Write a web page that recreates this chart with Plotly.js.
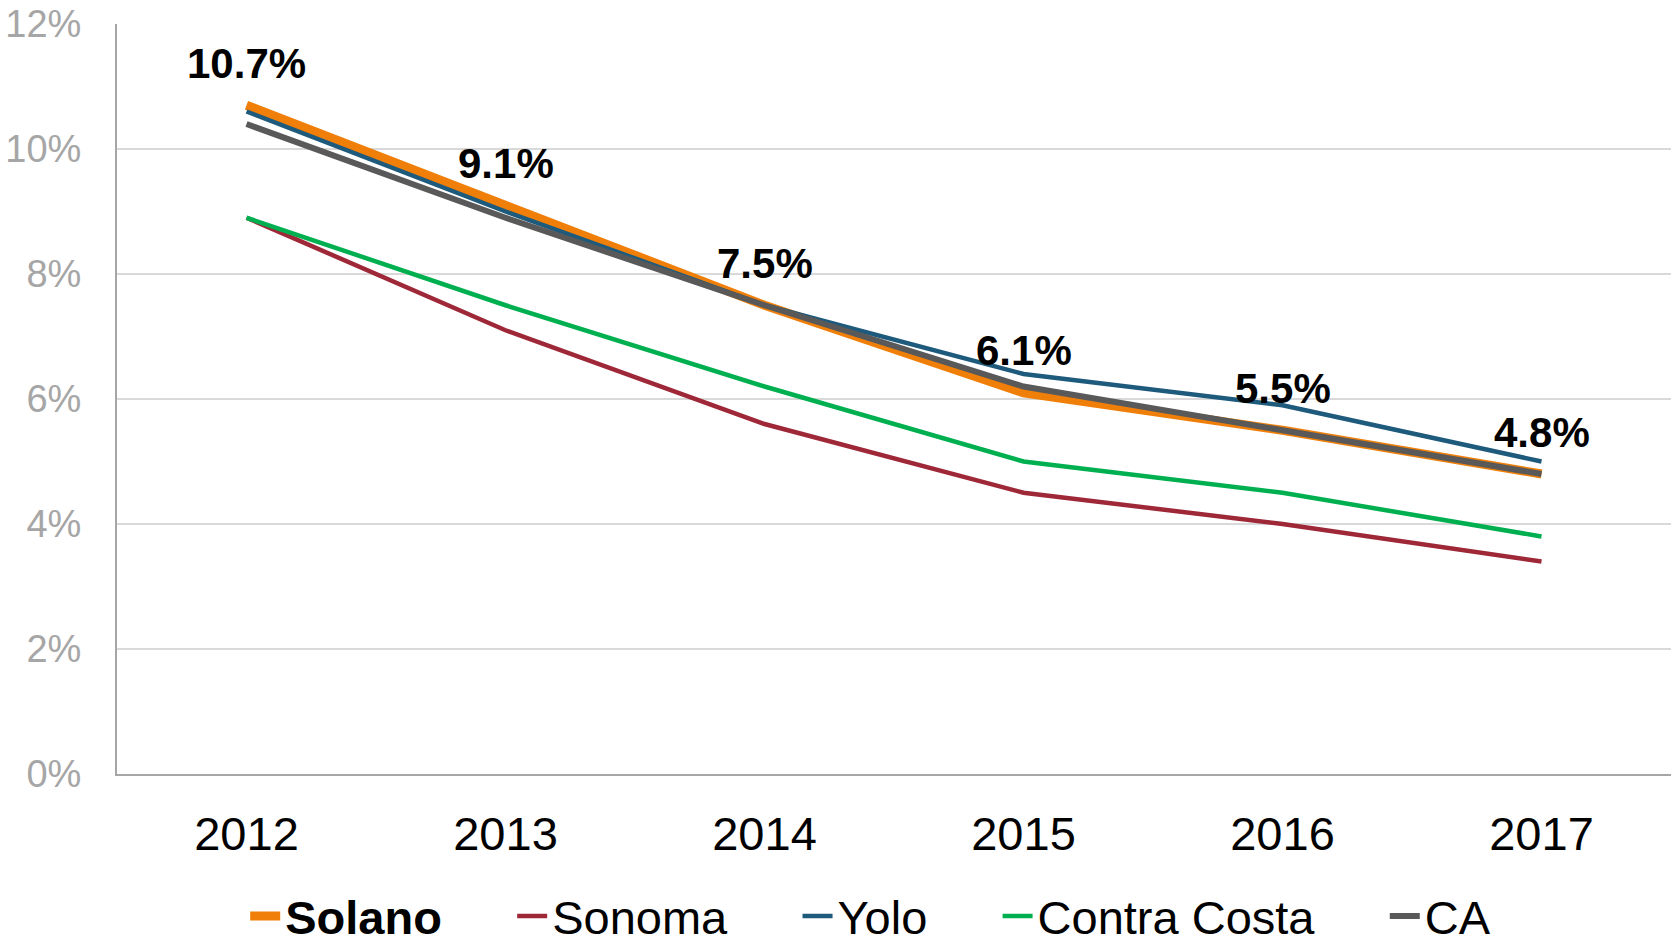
<!DOCTYPE html>
<html>
<head>
<meta charset="utf-8">
<script src="https://cdn.plot.ly/plotly-3.0.1.min.js"></script>
<style>
  html, body { margin: 0; padding: 0; background: #ffffff; }
  #chart { width: 1673px; height: 944px; }
</style>
</head>
<body>
<div id="chart"></div>
<script>
const years = ['2012', '2013', '2014', '2015', '2016', '2017'];
const solano = [10.7, 9.1, 7.5, 6.1, 5.5, 4.8];
const sonoma = [8.9, 7.1, 5.6, 4.5, 4.0, 3.4];
const yolo = [10.6, 9.0, 7.5, 6.4, 5.9, 5.0];
const contraCosta = [8.9, 7.5, 6.2, 5.0, 4.5, 3.8];
const ca = [10.4, 8.9, 7.5, 6.2, 5.5, 4.8];
const yTicks = [0, 2, 4, 6, 8, 10, 12];

const FONT = 'Liberation Sans, Arial, sans-serif';
const PAD = '\u00a0\u00a0\u00a0\u00a0\u00a0';

function line(name, y, color, width) {
  return {
    type: 'scatter', mode: 'lines', name: name, x: years, y: y,
    line: { color: color, width: width },
    hoverinfo: 'skip'
  };
}

const data = [
  line('<b>Solano</b>' + PAD, solano, '#f07f09', 9),
  line('Sonoma' + PAD, sonoma, '#9e2837', 4.5),
  line('Yolo' + PAD, yolo, '#1d5a7c', 4.5),
  line('Contra Costa' + PAD, contraCosta, '#00b050', 4.5),
  line('CA', ca, '#595959', 6)
];

const annotations = years.map((yr, i) => ({
  x: i, y: solano[i], xref: 'x', yref: 'y',
  text: '<b>' + solano[i].toFixed(1) + '%</b>',
  showarrow: false, yshift: 42, yanchor: 'middle', xanchor: 'center',
  font: { family: FONT, size: 42, color: '#000000' }
}));

const layout = {
  width: 1673, height: 944,
  margin: { l: 117, r: 2, t: 24, b: 170, autoexpand: false },
  paper_bgcolor: '#ffffff', plot_bgcolor: '#ffffff',
  font: { family: FONT },
  showlegend: true,
  legend: {
    orientation: 'h', x: 0.485, xanchor: 'center', y: -0.19, yanchor: 'middle',
    font: { family: FONT, size: 47, color: '#000000' },
    itemwidth: 30, tracegroupgap: 0
  },
  xaxis: {
    type: 'category', categoryorder: 'array', categoryarray: years,
    range: [-0.5, years.length - 0.5], autorange: false,
    showgrid: false, zeroline: false,
    showline: true, linecolor: '#a6a6a6', linewidth: 2,
    ticks: '', ticklabelstandoff: 18,
    tickfont: { family: FONT, size: 47, color: '#000000' },
    fixedrange: true
  },
  yaxis: {
    range: [0, 12], autorange: false, tickvals: yTicks, ticktext: yTicks.map(v => v + '%'),
    showgrid: true, gridcolor: '#d9d9d9', gridwidth: 1.5,
    zeroline: false, showline: true, linecolor: '#a6a6a6', linewidth: 2,
    ticks: '', ticklabelstandoff: 26,
    tickfont: { family: FONT, size: 38, color: '#a6a6a6' },
    fixedrange: true
  },
  annotations: annotations
};

Plotly.newPlot('chart', data, layout, { displayModeBar: false, staticPlot: true });
</script>
</body>
</html>
